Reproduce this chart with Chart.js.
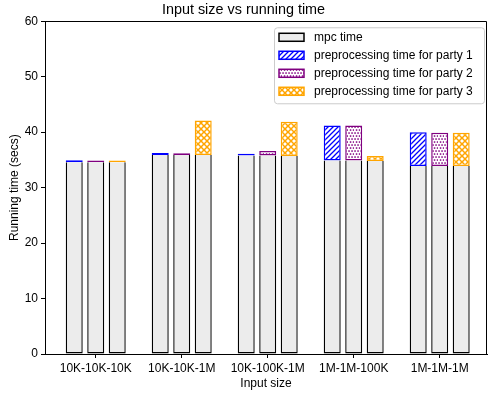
<!DOCTYPE html>
<html>
<head>
<meta charset="utf-8">
<script src="https://cdn.jsdelivr.net/npm/chart.js@4.4.1/dist/chart.umd.min.js"></script>
<style>
html, body { margin: 0; padding: 0; background: #fff; }
#wrap { width: 488px; height: 395px; }
</style>
</head>
<body>
<div id="wrap"><canvas id="chart"></canvas></div>
<script>
// data (seconds)
const categories = ['10K-10K-10K', '10K-10K-1M', '10K-100K-1M', '1M-1M-100K', '1M-1M-1M'];
const mpcParty1 = [34.6, 35.9, 35.8, 34.9, 33.9];
const mpcParty2 = [34.6, 35.9, 35.8, 34.9, 33.9];
const mpcParty3 = [34.6, 35.9, 35.7, 34.8, 33.9];
const preParty1 = [0.35, 0.35, 0.3, 6.3, 6.1];
const preParty2 = [0.3, 0.3, 0.8, 6.3, 6.0];
const preParty3 = [0.3, 6.2, 6.2, 0.9, 6.0];
const yTicks = [0, 10, 20, 30, 40, 50, 60];

Chart.defaults.font.family = '"Liberation Sans", Arial, sans-serif';
Chart.defaults.font.size = 12;
Chart.defaults.color = '#000';

function makePattern(kind, color) {
    const s = kind === 'diag' ? 5 : 6;
    const c = document.createElement('canvas');
    c.width = s; c.height = s;
    const g = c.getContext('2d');
    g.fillStyle = '#fff';
    g.fillRect(0, 0, s, s);
    g.strokeStyle = color;
    g.fillStyle = color;
    g.lineWidth = 1.3;
    g.beginPath();
    if (kind === 'diag') {
        g.moveTo(-1, s + 1); g.lineTo(s + 1, -1);
        g.moveTo(-1, 1); g.lineTo(1, -1);
        g.moveTo(s - 1, s + 1); g.lineTo(s + 1, s - 1);
        g.stroke();
    } else if (kind === 'dots') {
        [[0.3, 0.3], [3.3, 0.3], [1.8, 3.3], [4.8, 3.3]].forEach(([x, y]) => g.fillRect(x, y, 1.5, 1.5));
    } else {
        g.lineWidth = 1.5;
        g.moveTo(0, 0); g.lineTo(s, s);
        g.moveTo(0, s); g.lineTo(s, 0);
        g.stroke();
    }
    return g.createPattern(c, 'repeat');
}

const hatchBlue = makePattern('diag', '#0000ff');
const dotsPurple = makePattern('dots', '#800080');
const crossOrange = makePattern('cross', '#ffa500');

const toPoints = arr => arr.map((v, i) => ({ x: i, y: v }));

// top edge left off: the preprocessing bar sitting on it draws that edge
const mpcStyle = { backgroundColor: '#ececec', borderColor: '#000', borderWidth: 1.4, borderSkipped: 'end' };

// legend inside the plot, like matplotlib's
const boxLegend = {
    id: 'boxLegend',
    afterDraw(chart) {
        const ctx = chart.ctx;
        const area = chart.chartArea;
        const ds = chart.data.datasets;
        const items = [ds[0], ds[3], ds[4], ds[5]];
        const w = 210, h = 76;
        const x0 = area.right - 3 - w, y0 = area.top + 6;
        ctx.save();
        ctx.fillStyle = 'rgba(255,255,255,0.8)';
        ctx.strokeStyle = '#cccccc';
        ctx.lineWidth = 1;
        ctx.beginPath();
        ctx.roundRect(x0 + 0.5, y0 + 0.5, w, h, 3);
        ctx.fill();
        ctx.stroke();
        ctx.font = '12px "Liberation Sans", Arial, sans-serif';
        ctx.textBaseline = 'middle';
        items.forEach((d, i) => {
            const cy = y0 + 10 + i * 18;
            ctx.fillStyle = d.backgroundColor;
            ctx.fillRect(x0 + 5, cy - 4, 25, 8);
            ctx.strokeStyle = d.borderColor;
            ctx.lineWidth = 1.5;
            ctx.strokeRect(x0 + 5, cy - 4, 25, 8);
            ctx.fillStyle = '#000';
            ctx.fillText(d.label, x0 + 40, cy);
        });
        ctx.restore();
    }
};

// top and right spines
const frame = {
    id: 'frame',
    afterDraw(chart) {
        const ctx = chart.ctx;
        const a = chart.chartArea;
        ctx.save();
        ctx.strokeStyle = '#000';
        ctx.lineWidth = 1;
        ctx.beginPath();
        ctx.moveTo(a.left, Math.round(a.top) + 0.5);
        ctx.lineTo(Math.round(a.right) - 0.5, Math.round(a.top) + 0.5);
        ctx.lineTo(Math.round(a.right) - 0.5, a.bottom);
        ctx.stroke();
        ctx.restore();
    }
};

new Chart(document.getElementById('chart'), {
    type: 'bar',
    data: {
        datasets: [
            { label: 'mpc time', data: toPoints(mpcParty1), stack: 'p1', ...mpcStyle },
            { label: 'mpc time', data: toPoints(mpcParty2), stack: 'p2', ...mpcStyle },
            { label: 'mpc time', data: toPoints(mpcParty3), stack: 'p3', ...mpcStyle },
            { label: 'preprocessing time for party 1', data: toPoints(preParty1), stack: 'p1',
              backgroundColor: hatchBlue, borderColor: '#0000ff', borderWidth: 1.5, borderSkipped: false },
            { label: 'preprocessing time for party 2', data: toPoints(preParty2), stack: 'p2',
              backgroundColor: dotsPurple, borderColor: '#800080', borderWidth: 1.5, borderSkipped: false },
            { label: 'preprocessing time for party 3', data: toPoints(preParty3), stack: 'p3',
              backgroundColor: crossOrange, borderColor: '#ffa500', borderWidth: 1.5, borderSkipped: false }
        ]
    },
    options: {
        responsive: true,
        maintainAspectRatio: false,
        animation: false,
        layout: { padding: { top: 0, right: 1, bottom: 0, left: 0 } },
        datasets: {
            bar: { categoryPercentage: 0.75, barPercentage: 0.79 }
        },
        plugins: {
            legend: { display: false },
            tooltip: { enabled: false },
            title: {
                display: true,
                text: 'Input size vs running time',
                color: '#000',
                font: { size: 14.4, weight: 'normal' },
                padding: { top: 1, bottom: 3 }
            }
        },
        scales: {
            x: {
                type: 'linear',
                min: -0.59,
                max: 4.55,
                offset: false,
                grid: { display: true, offset: false, drawOnChartArea: false, tickLength: 4, color: '#000' },
                border: { display: true, color: '#000', width: 1 },
                ticks: {
                    stepSize: 1,
                    includeBounds: false,
                    autoSkip: false,
                    maxRotation: 0,
                    padding: 3,
                    color: '#000',
                    callback: v => categories[v] ?? ''
                },
                title: { display: true, text: 'Input size', color: '#000', font: { size: 12 }, padding: { top: 2, bottom: 4 } },
                afterFit: s => { s.height = 41; }
            },
            y: {
                stacked: true,
                min: yTicks[0],
                max: yTicks[yTicks.length - 1],
                grid: { drawOnChartArea: false, tickLength: 4, color: '#000' },
                border: { display: true, color: '#000', width: 1 },
                ticks: { stepSize: yTicks[1] - yTicks[0], padding: 3, color: '#000' },
                title: { display: true, text: 'Running time (secs)', color: '#000', font: { size: 12 }, padding: { top: 7, bottom: 0 } },
                afterFit: s => { s.width = 45; }
            }
        }
    },
    plugins: [boxLegend, frame]
});
</script>
</body>
</html>
